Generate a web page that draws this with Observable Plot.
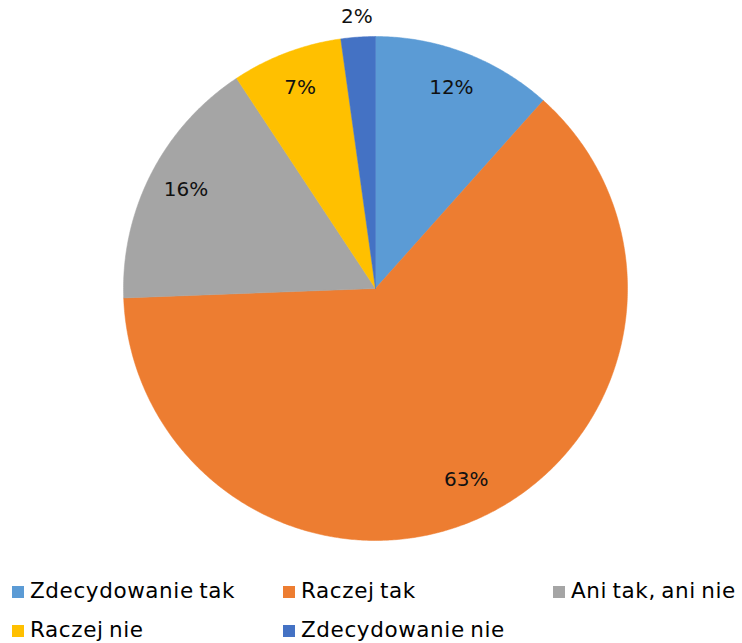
<!DOCTYPE html>
<html><head><meta charset="utf-8">
<script src="https://cdn.jsdelivr.net/npm/d3@7"></script>
<script src="https://cdn.jsdelivr.net/npm/@observablehq/plot@0.6"></script>
<style>
body{margin:0;background:#fff;font-family:"DejaVu Sans",sans-serif;}
#wrap{position:relative;width:742px;height:643px;overflow:hidden;}
.leg{position:absolute;font-size:21.5px;letter-spacing:0.6px;word-spacing:-2px;color:#000;white-space:nowrap;line-height:22px;}
.leg span.sw{display:inline-block;width:12px;height:12px;margin-right:6px;vertical-align:0px;}
</style></head>
<body><div id="wrap"><div id="chart"></div></div>
<script>
const categories = ["Zdecydowanie tak","Raczej tak","Ani tak, ani nie","Raczej nie","Zdecydowanie nie"];
const values = [11.6, 62.8, 16.3, 7.1, 2.2];
const labels = ["12%","63%","16%","7%","2%"];
const colors = ["#5B9BD5","#ED7D31","#A5A5A5","#FFC000","#4472C4"];

const arcs = d3.pie().sort(null).value(d => d.v).startAngle(0).endAngle(2*Math.PI)(
  categories.map((c,i)=>({cat:c, v:values[i], label:labels[i]})));

const pts = [];
for (const a of arcs) {
  pts.push({cat:a.data.cat, x:0, y:0});
  const n = Math.max(4, Math.ceil((a.endAngle-a.startAngle)*120));
  for (let k=0;k<=n;k++){
    const t = a.startAngle + (a.endAngle-a.startAngle)*k/n;
    pts.push({cat:a.data.cat, x:Math.sin(t), y:Math.cos(t)});
  }
  pts.push({cat:a.data.cat, x:0, y:0});
}
const lab = arcs.map(a=>{
  const m=(a.startAngle+a.endAngle)/2;
  const r = a.data.v < 5 ? 1.075 : 0.845;
  return {label:a.data.label, x:r*Math.sin(m), y:r*Math.cos(m)};
});

const H = 560;
const chart = Plot.plot({
  width:742, height:H,
  marginLeft:123, marginRight:115, marginTop:36, marginBottom:H-540,
  x:{domain:[-1,1], axis:null},
  y:{domain:[-1,1], axis:null},
  color:{domain:categories, range:colors},
  style:{fontFamily:"DejaVu Sans, sans-serif", background:"white"},
  marks:[
    Plot.line(pts,{x:"x",y:"y",z:"cat",fill:"cat",stroke:"cat",strokeWidth:0.5,curve:"linear"}),
    Plot.text(lab,{x:"x",y:"y",text:"label",fontSize:20,dy:-2,fill:"#111",textAnchor:"middle"})
  ]
});
document.getElementById("chart").appendChild(chart);

const legPos = [[12,580],[283,580],[553,580],[12,619],[283,619]];
const wrap = document.getElementById("wrap");
categories.forEach((c,i)=>{
  const d=document.createElement("div");
  d.className="leg";
  d.style.left=legPos[i][0]+"px"; d.style.top=legPos[i][1]+"px";
  d.innerHTML=`<span class="sw" style="background:${colors[i]}"></span>${c}`;
  wrap.appendChild(d);
});
</script></body></html>
